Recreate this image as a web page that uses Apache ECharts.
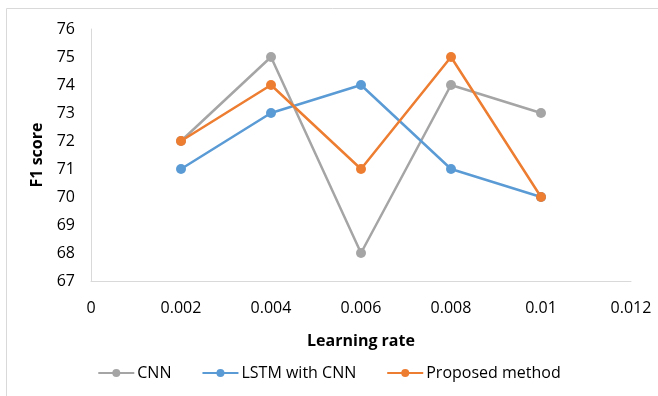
<!DOCTYPE html>
<html>
<head>
<meta charset="utf-8">
<script src="https://cdn.jsdelivr.net/npm/echarts@6/dist/echarts.min.js"></script>
<style>
  html, body { margin: 0; padding: 0; background: #fff; }
  #chart { width: 658px; height: 396px; }
</style>
</head>
<body>
<div id="chart"></div>
<script>
const learningRates = [0.002, 0.004, 0.006, 0.008, 0.01]
const cnn = [72, 75, 68, 74, 73]
const lstmCnn = [71, 73, 74, 71, 70]
const proposed = [72, 74, 71, 75, 70]

const FONT = '"Open Sans", sans-serif'
const pairs = vals => vals.map((v, i) => [learningRates[i], v])

const makeSeries = (name, color, vals) => ({
  name,
  type: 'line',
  data: pairs(vals),
  symbol: 'circle',
  symbolSize: 10,
  lineStyle: { color, width: 2.5 },
  itemStyle: { color },
  emphasis: { disabled: true }
})

const chart = echarts.init(document.getElementById('chart'))
chart.setOption({
  animation: false,
  textStyle: { fontFamily: FONT },
  graphic: [{
    type: 'rect',
    shape: { x: 6.5, y: 8.5, width: 700, height: 450 },
    style: { fill: 'none', stroke: '#d9d9d9', lineWidth: 1 },
    silent: true
  }],
  grid: { left: 91, right: 27, top: 29, bottom: 115 },
  legend: {
    bottom: 10,
    left: 'center',
    itemWidth: 36,
    itemHeight: 10,
    itemGap: 30,
    textStyle: { fontFamily: FONT, fontSize: 16, color: '#000', padding: [0, 0, 0, -2] },
    data: ['CNN', 'LSTM with CNN', 'Proposed method']
  },
  xAxis: {
    type: 'value',
    min: 0,
    max: 0.012,
    interval: 0.002,
    name: 'Learning rate',
    nameLocation: 'middle',
    nameGap: 52,
    nameTextStyle: { fontFamily: FONT, fontSize: 16, fontWeight: 'bold', color: '#000' },
    axisLine: { lineStyle: { color: '#d9d9d9' } },
    axisTick: { show: false },
    splitLine: { show: false },
    axisLabel: { fontFamily: FONT, fontSize: 16, color: '#000', margin: 19 }
  },
  yAxis: {
    type: 'value',
    min: 67,
    max: 76,
    interval: 1,
    name: 'F1 score',
    nameLocation: 'middle',
    nameRotate: 90,
    nameGap: 45,
    nameTextStyle: { fontFamily: FONT, fontSize: 16, fontWeight: 'bold', color: '#000' },
    axisLine: { show: true, lineStyle: { color: '#d9d9d9' } },
    axisTick: { show: false },
    splitLine: { show: false },
    axisLabel: { fontFamily: FONT, fontSize: 16, color: '#000', margin: 16 }
  },
  series: [
    makeSeries('CNN', '#a5a5a5', cnn),
    makeSeries('LSTM with CNN', '#5b9bd5', lstmCnn),
    makeSeries('Proposed method', '#ed7d31', proposed)
  ]
})
</script>
</body>
</html>
